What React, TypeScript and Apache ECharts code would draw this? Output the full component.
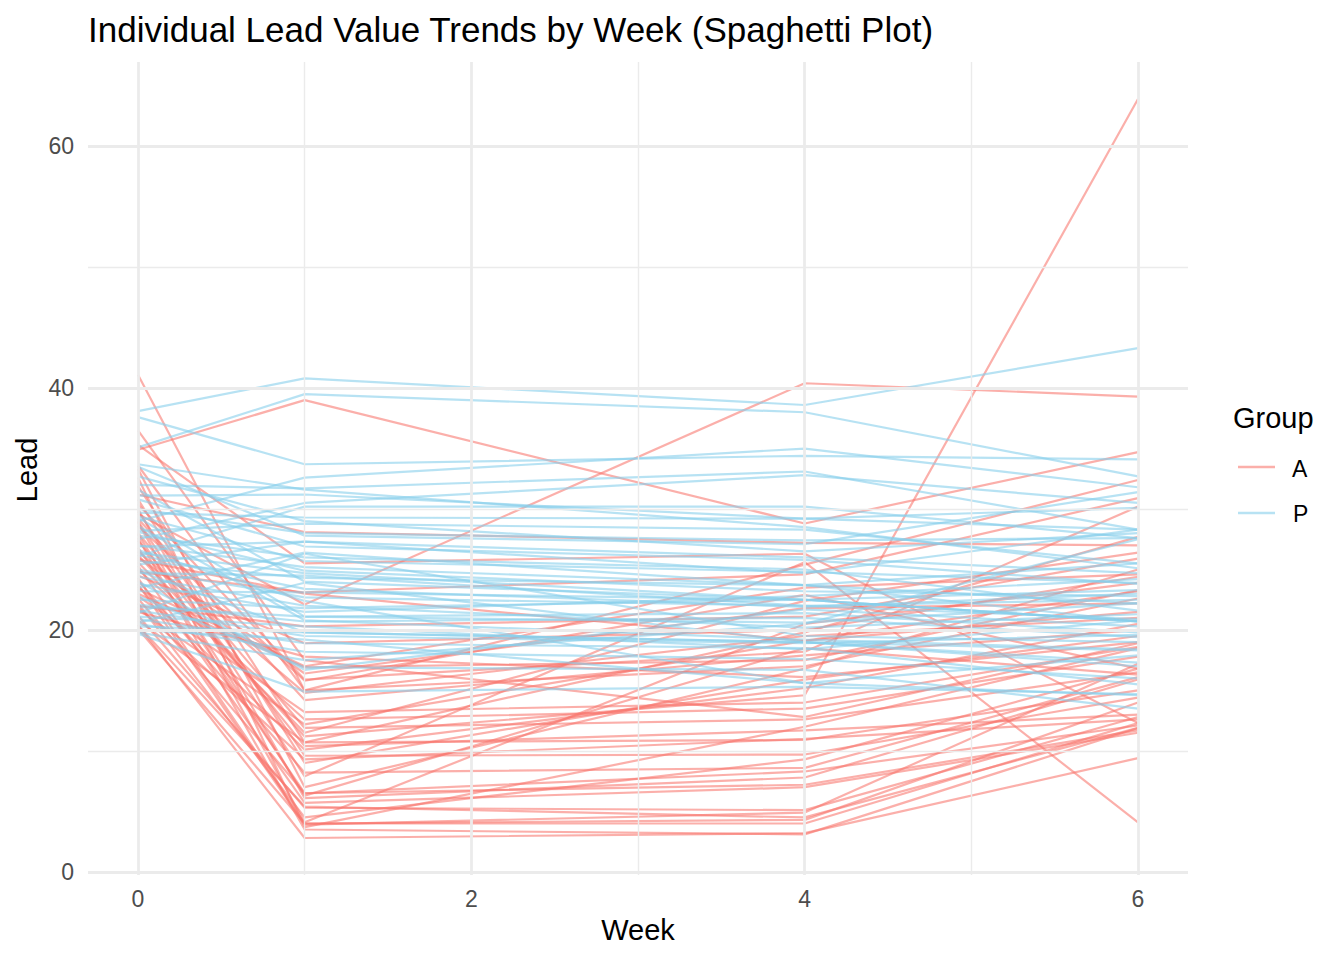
import React, { useEffect, useRef } from "react";
import * as echarts from "echarts";

const weeks = [0, 1, 4, 6];
const groups = ["A", "P"];
const xTickLabels = [0, 2, 4, 6];
const yTickLabels = [0, 20, 40, 60];
const xMinorGrid = [1, 3, 5];
const yMinorGrid = [10, 30, 50];

// Group A children: lead at weeks 0, 1, 4, 6
const leadA: number[][] = [
  [26.5, 14.8, 19.5, 21.0],
  [25.8, 23.0, 19.1, 23.2],
  [20.4, 2.8, 3.2, 9.4],
  [20.4, 5.4, 4.5, 11.9],
  [24.8, 23.1, 24.6, 30.9],
  [27.9, 6.3, 18.5, 16.3],
  [35.3, 25.5, 26.3, 12.3],
  [28.6, 15.8, 22.9, 16.8],
  [34.9, 39.0, 28.8, 34.7],
  [29.6, 22.1, 40.4, 39.3],
  [41.1, 15.0, 17.0, 22.6],
  [36.5, 17.5, 12.8, 18.9],
  [29.0, 7.9, 25.6, 4.1],
  [26.2, 11.2, 14.6, 63.9],
  [31.2, 28.1, 27.2, 27.0],
  [22.0, 20.3, 21.1, 25.9],
  [24.5, 18.9, 20.0, 24.4],
  [21.5, 17.8, 16.1, 19.0],
  [23.0, 16.9, 17.5, 23.3],
  [30.4, 15.9, 18.2, 30.2],
  [33.6, 15.0, 25.4, 32.4],
  [22.8, 13.2, 14.0, 18.6],
  [25.0, 12.6, 13.5, 17.8],
  [28.0, 11.9, 12.6, 16.5],
  [20.8, 10.7, 10.9, 15.0],
  [31.9, 10.7, 19.8, 27.7],
  [27.4, 10.4, 11.7, 13.0],
  [23.6, 10.1, 15.2, 20.5],
  [29.8, 9.6, 9.7, 14.4],
  [21.9, 9.3, 11.0, 12.6],
  [24.1, 8.2, 8.6, 16.1],
  [33.3, 7.0, 16.8, 25.0],
  [26.8, 6.5, 8.3, 12.1],
  [22.6, 6.5, 7.2, 11.7],
  [30.0, 6.1, 7.8, 15.9],
  [25.3, 5.7, 7.0, 11.5],
  [21.2, 5.3, 5.1, 12.8],
  [28.9, 4.1, 20.5, 23.9],
  [24.3, 4.0, 4.3, 14.0],
  [20.1, 4.0, 4.0, 12.3],
  [23.8, 3.9, 4.9, 17.2],
  [27.6, 3.5, 3.1, 11.9],
  [32.6, 3.7, 12.0, 18.5],
  [22.2, 4.5, 9.3, 16.8],
  [26.0, 16.4, 21.8, 22.2],
  [29.2, 14.2, 17.9, 20.0],
  [21.7, 12.2, 19.1, 21.5],
  [25.6, 11.5, 22.4, 26.4],
  [30.8, 9.0, 15.9, 19.5],
  [23.4, 17.0, 23.5, 24.6],
];

// Group P children: lead at weeks 0, 1, 4, 6
const leadP: number[][] = [
  [30.8, 26.9, 25.8, 23.8],
  [24.7, 24.5, 22.0, 22.5],
  [28.6, 20.8, 19.2, 18.4],
  [33.7, 31.6, 28.5, 25.1],
  [19.7, 14.9, 15.3, 14.7],
  [31.1, 31.2, 29.2, 30.1],
  [19.8, 17.5, 20.5, 27.5],
  [21.4, 26.3, 19.5, 19.0],
  [21.1, 20.3, 18.4, 20.8],
  [20.6, 23.9, 19.0, 17.0],
  [24.0, 16.7, 21.7, 20.3],
  [37.6, 33.7, 34.4, 34.1],
  [38.1, 40.8, 38.6, 43.3],
  [35.1, 39.5, 38.0, 32.7],
  [29.0, 32.6, 35.0, 31.8],
  [32.0, 31.7, 33.1, 28.3],
  [27.5, 30.5, 32.8, 30.5],
  [26.1, 30.2, 30.2, 27.6],
  [29.7, 29.3, 29.2, 28.3],
  [28.2, 28.8, 28.3, 25.5],
  [30.0, 28.0, 27.4, 27.6],
  [26.9, 27.3, 26.0, 24.7],
  [25.4, 27.3, 24.7, 28.3],
  [23.5, 26.4, 23.7, 22.2],
  [27.0, 25.2, 23.7, 20.7],
  [26.4, 24.7, 22.5, 23.3],
  [25.7, 24.3, 23.7, 25.5],
  [23.2, 23.1, 22.5, 20.7],
  [22.5, 21.8, 22.5, 20.7],
  [29.3, 21.1, 21.4, 19.8],
  [21.9, 21.1, 20.6, 22.2],
  [20.3, 19.8, 19.0, 18.3],
  [24.9, 19.8, 19.0, 17.3],
  [20.9, 18.9, 18.5, 15.5],
  [22.8, 16.9, 16.7, 13.5],
  [26.6, 22.4, 15.6, 14.6],
  [20.0, 19.2, 15.6, 17.9],
  [33.5, 27.8, 27.1, 31.4],
  [29.4, 25.7, 24.8, 23.9],
  [25.0, 22.7, 22.0, 20.9],
  [23.8, 21.5, 22.8, 24.2],
  [27.8, 26.0, 25.0, 21.6],
  [22.1, 20.7, 21.0, 19.4],
  [31.6, 24.0, 22.5, 20.7],
  [28.1, 24.9, 23.2, 22.8],
  [20.5, 18.2, 17.6, 16.0],
  [24.4, 22.0, 20.2, 21.3],
  [26.2, 23.4, 21.9, 23.0],
  [32.7, 29.0, 26.5, 28.0],
  [21.6, 19.5, 18.9, 19.6],
];

const colorA = "rgba(248,118,109,0.58)";
const colorP = "rgba(135,206,235,0.6)";
const FONT = "'Liberation Sans', Arial, Helvetica, sans-serif";

export default function App() {
  const ref = useRef<HTMLDivElement>(null);

  useEffect(() => {
    if (!ref.current) return;
    const chart = echarts.init(ref.current, undefined, { renderer: "svg" });

    const makeSeries = (rows: number[][], name: string, color: string) =>
      rows.map((r) => ({
        type: "line",
        name,
        data: weeks.map((w, i) => [w, r[i]]),
        showSymbol: false,
        symbol: "none",
        lineStyle: { color, width: 2.2 },
        itemStyle: { color },
        silent: true,
        z: 3,
      }));

    const major = { color: "#EBEBEB", width: 2.8, type: "solid" };
    const minor = { color: "#EBEBEB", width: 1.4, type: "solid" };

    const gridSeries = {
      type: "line",
      name: "grid",
      data: [],
      silent: true,
      z: 1,
      markLine: {
        silent: true,
        symbol: ["none", "none"],
        label: { show: false },
        animation: false,
        data: [
          ...yMinorGrid.map((v) => ({ yAxis: v, lineStyle: minor })),
          ...xMinorGrid.map((v) => ({ xAxis: v, lineStyle: minor })),
          ...yTickLabels.map((v) => ({ yAxis: v, lineStyle: major })),
          ...xTickLabels.map((v) => ({ xAxis: v, lineStyle: major })),
        ],
      },
    };

    chart.setOption({
      animation: false,
      grid: { left: 88, right: 156, top: 62, bottom: 85 },
      xAxis: {
        type: "value",
        min: -0.3,
        max: 6.3,
        axisLine: { show: false },
        axisTick: { show: false },
        splitLine: { show: false },
        axisLabel: {
          customValues: xTickLabels,
          color: "#4D4D4D",
          fontSize: 23,
          fontFamily: FONT,
          margin: 12,
        },
      },
      yAxis: {
        type: "value",
        min: -0.26,
        max: 66.96,
        axisLine: { show: false },
        axisTick: { show: false },
        splitLine: { show: false },
        axisLabel: {
          customValues: yTickLabels,
          color: "#4D4D4D",
          fontSize: 23,
          fontFamily: FONT,
          margin: 14,
        },
      },
      series: [gridSeries, ...makeSeries(leadA, groups[0], colorA), ...makeSeries(leadP, groups[1], colorP)],
      graphic: [
        {
          type: "text",
          x: 88,
          y: 29,
          style: {
            text: "Individual Lead Value Trends by Week (Spaghetti Plot)",
            fill: "#000",
            font: `35px ${FONT}`,
            align: "left",
            verticalAlign: "middle",
          },
        },
        {
          type: "text",
          x: 638,
          y: 930,
          style: { text: "Week", fill: "#000", font: `29px ${FONT}`, align: "center", verticalAlign: "middle" },
        },
        {
          type: "text",
          x: 27,
          y: 470,
          rotation: Math.PI / 2,
          style: { text: "Lead", fill: "#000", font: `29px ${FONT}`, align: "center", verticalAlign: "middle" },
        },
        {
          type: "text",
          x: 1233,
          y: 418,
          style: { text: "Group", fill: "#000", font: `29px ${FONT}`, align: "left", verticalAlign: "middle" },
        },
        {
          type: "line",
          shape: { x1: 1238, y1: 467, x2: 1275, y2: 467 },
          style: { stroke: colorA, lineWidth: 2.4 },
        },
        {
          type: "text",
          x: 1292,
          y: 469,
          style: { text: "A", fill: "#000", font: `23px ${FONT}`, align: "left", verticalAlign: "middle" },
        },
        {
          type: "line",
          shape: { x1: 1238, y1: 513, x2: 1275, y2: 513 },
          style: { stroke: colorP, lineWidth: 2.4 },
        },
        {
          type: "text",
          x: 1293,
          y: 514,
          style: { text: "P", fill: "#000", font: `23px ${FONT}`, align: "left", verticalAlign: "middle" },
        },
      ],
    });

    return () => chart.dispose();
  }, []);

  return <div ref={ref} style={{ width: 1344, height: 960, margin: -8 }} />;
}
